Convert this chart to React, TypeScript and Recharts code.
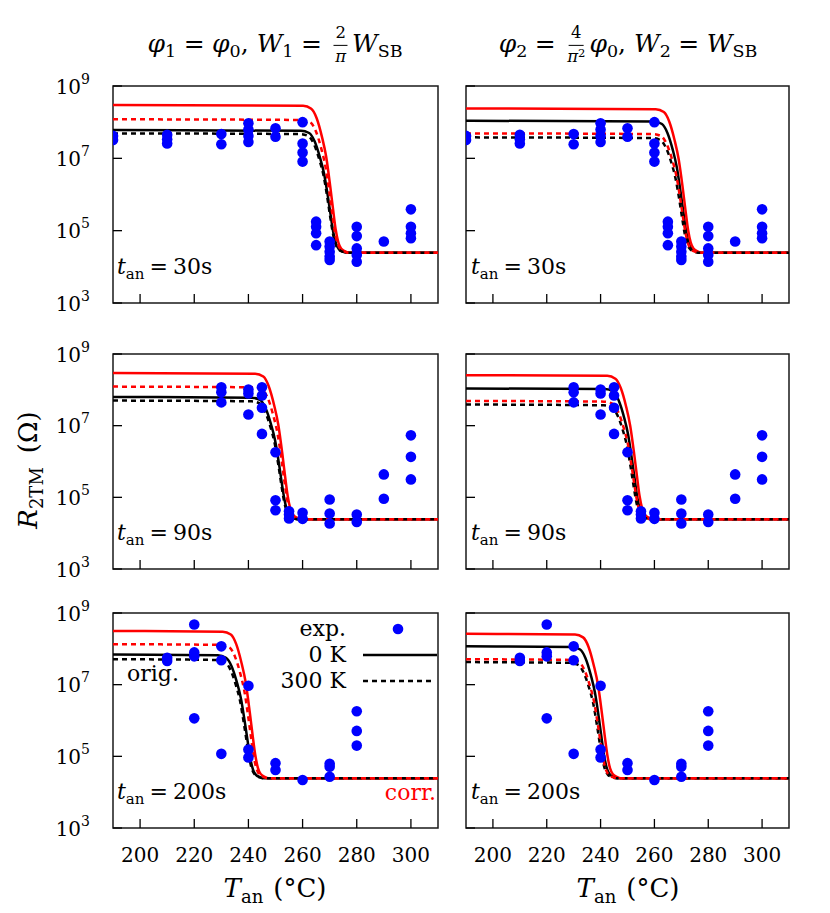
import React from 'react';
import { ComposedChart, Line, Scatter, XAxis, YAxis, ReferenceArea, Legend } from 'recharts';

const FONT = '"DejaVu Serif", serif';
const RED = '#ff0000';
const BLUE = '#0000ff';
const INK = '#000000';

const X_DOMAIN: [number, number] = [190, 310];
const Y_DOMAIN: [number, number] = [1e3, 1e9];
const X_TICKS = [200, 220, 240, 260, 280, 300];
const Y_TICKS = [1e3, 1e5, 1e7, 1e9];
const Y_TICK_EXPONENTS = ['3', '5', '7', '9'];

const ROW_LABELS = ['30s', '90s', '200s'];

// ---------- experimental points (T in °C, log10 R) ----------
const exp30_T = [190, 190, 210, 210, 210, 230, 230, 240, 240, 240, 240, 250, 250, 260, 260, 260, 260, 265, 265, 265, 265, 270, 270, 270, 270, 270, 280, 280, 280, 280, 280, 290, 300, 300, 300, 300];
const exp30_logR = [7.62, 7.51, 7.65, 7.53, 7.41, 7.67, 7.39, 7.97, 7.8, 7.62, 7.45, 7.83, 7.6, 8.0, 7.41, 7.16, 6.91, 5.25, 5.11, 4.93, 4.6, 4.7, 4.56, 4.42, 4.28, 4.19, 5.11, 4.85, 4.51, 4.33, 4.14, 4.7, 5.59, 5.11, 4.93, 4.79];
const exp90_T = [230, 230, 230, 240, 240, 240, 245, 245, 245, 245, 250, 250, 250, 255, 255, 255, 260, 260, 270, 270, 270, 280, 280, 290, 290, 300, 300, 300];
const exp90_logR = [8.07, 7.93, 7.65, 8.01, 7.9, 7.31, 8.07, 7.84, 7.5, 6.77, 6.26, 4.92, 4.64, 4.61, 4.52, 4.41, 4.57, 4.4, 4.94, 4.55, 4.27, 4.52, 4.31, 5.64, 4.96, 6.73, 6.13, 5.5];
const exp200_T = [210, 210, 220, 220, 220, 220, 230, 230, 230, 240, 240, 240, 250, 250, 260, 270, 270, 270, 280, 280, 280];
const exp200_logR = [7.75, 7.66, 8.68, 7.9, 7.79, 6.06, 8.07, 7.68, 5.07, 6.97, 5.19, 4.97, 4.81, 4.62, 4.34, 4.79, 4.71, 4.43, 6.26, 5.71, 5.3];

// ---------- model curves: T and log10 R ----------
// Panel A: 30 s, left column
const A_redSolid_T = [190, 260.2, 263.2, 265.2, 267.2, 268.7, 270.2, 271.2, 272.2, 273.2, 274.2, 275.7, 277.2, 310];
const A_redSolid_L = [8.475, 8.455, 8.37, 8.11, 7.58, 7.05, 6.23, 5.62, 5.04, 4.68, 4.51, 4.43, 4.39, 4.39];
const A_redDash_T = [190, 259.9, 262.9, 264.9, 266.9, 268.4, 269.9, 270.9, 271.9, 272.9, 273.9, 275.4, 276.9, 310];
const A_redDash_L = [8.08, 8.06, 7.99, 7.75, 7.27, 6.79, 6.05, 5.5, 4.98, 4.65, 4.5, 4.43, 4.39, 4.39];
const A_blackSolid_T = [190, 259.4, 262.4, 264.4, 266.4, 267.9, 269.4, 270.4, 271.4, 272.4, 273.4, 274.9, 276.4, 310];
const A_blackSolid_L = [7.78, 7.76, 7.7, 7.48, 7.03, 6.59, 5.92, 5.41, 4.93, 4.63, 4.49, 4.42, 4.39, 4.39];
const A_blackDash_T = [190, 259.2, 262.2, 264.2, 266.2, 267.7, 269.2, 270.2, 271.2, 272.2, 273.2, 274.7, 276.2, 310];
const A_blackDash_L = [7.69, 7.67, 7.61, 7.39, 6.96, 6.54, 5.88, 5.38, 4.92, 4.62, 4.49, 4.42, 4.39, 4.39];
// Panel B: 30 s, right column
const B_redSolid_T = [190, 260.5, 263.5, 265.5, 267.5, 269, 270.5, 271.5, 272.5, 273.5, 274.5, 276, 277.5, 310];
const B_redSolid_L = [8.38, 8.36, 8.28, 8.02, 7.5, 6.98, 6.19, 5.59, 5.03, 4.67, 4.51, 4.43, 4.39, 4.39];
const B_redDash_T = [190, 259.6, 262.6, 264.6, 266.6, 268.1, 269.6, 270.6, 271.6, 272.6, 273.6, 275.1, 276.6, 310];
const B_redDash_L = [7.69, 7.67, 7.61, 7.39, 6.96, 6.54, 5.88, 5.38, 4.92, 4.62, 4.49, 4.42, 4.39, 4.39];
const B_blackSolid_T = [190, 259.8, 262.8, 264.8, 266.8, 268.3, 269.8, 270.8, 271.8, 272.8, 273.8, 275.3, 276.8, 310];
const B_blackSolid_L = [8.04, 8.02, 7.95, 7.71, 7.24, 6.76, 6.03, 5.49, 4.97, 4.65, 4.5, 4.43, 4.39, 4.39];
const B_blackDash_T = [190, 259.3, 262.3, 264.3, 266.3, 267.8, 269.3, 270.3, 271.3, 272.3, 273.3, 274.8, 276.3, 310];
const B_blackDash_L = [7.58, 7.56, 7.5, 7.29, 6.88, 6.46, 5.83, 5.35, 4.9, 4.61, 4.49, 4.42, 4.39, 4.39];
// Panel C: 90 s, left column
const C_redSolid_T = [190, 242.5, 245.5, 247.5, 249.5, 251, 252.5, 253.5, 254.5, 255.5, 256.5, 258, 259.5, 310];
const C_redSolid_L = [8.47, 8.45, 8.37, 8.1, 7.57, 7.04, 6.23, 5.61, 5.04, 4.68, 4.51, 4.43, 4.39, 4.39];
const C_redDash_T = [190, 242.2, 245.2, 247.2, 249.2, 250.7, 252.2, 253.2, 254.2, 255.2, 256.2, 257.7, 259.2, 310];
const C_redDash_L = [8.09, 8.07, 8.0, 7.76, 7.28, 6.8, 6.06, 5.5, 4.98, 4.65, 4.5, 4.43, 4.39, 4.39];
const C_blackSolid_T = [190, 241.3, 244.3, 246.3, 248.3, 249.8, 251.3, 252.3, 253.3, 254.3, 255.3, 256.8, 258.3, 310];
const C_blackSolid_L = [7.8, 7.78, 7.72, 7.49, 7.05, 6.61, 5.93, 5.41, 4.94, 4.63, 4.49, 4.42, 4.39, 4.39];
const C_blackDash_T = [190, 241.1, 244.1, 246.1, 248.1, 249.6, 251.1, 252.1, 253.1, 254.1, 255.1, 256.6, 258.1, 310];
const C_blackDash_L = [7.7, 7.68, 7.62, 7.4, 6.97, 6.54, 5.88, 5.38, 4.92, 4.62, 4.49, 4.42, 4.39, 4.39];
// Panel D: 90 s, right column
const D_redSolid_T = [190, 242.5, 245.5, 247.5, 249.5, 251, 252.5, 253.5, 254.5, 255.5, 256.5, 258, 259.5, 310];
const D_redSolid_L = [8.41, 8.39, 8.31, 8.05, 7.53, 7.0, 6.2, 5.6, 5.03, 4.67, 4.51, 4.43, 4.39, 4.39];
const D_redDash_T = [190, 241.5, 244.5, 246.5, 248.5, 250, 251.5, 252.5, 253.5, 254.5, 255.5, 257, 258.5, 310];
const D_redDash_L = [7.69, 7.67, 7.61, 7.39, 6.96, 6.54, 5.88, 5.38, 4.92, 4.62, 4.49, 4.42, 4.39, 4.39];
const D_blackSolid_T = [190, 241.7, 244.7, 246.7, 248.7, 250.2, 251.7, 252.7, 253.7, 254.7, 255.7, 257.2, 258.7, 310];
const D_blackSolid_L = [8.04, 8.02, 7.95, 7.71, 7.24, 6.76, 6.03, 5.49, 4.97, 4.65, 4.5, 4.43, 4.39, 4.39];
const D_blackDash_T = [190, 241.2, 244.2, 246.2, 248.2, 249.7, 251.2, 252.2, 253.2, 254.2, 255.2, 256.7, 258.2, 310];
const D_blackDash_L = [7.59, 7.57, 7.51, 7.3, 6.89, 6.47, 5.83, 5.35, 4.9, 4.61, 4.49, 4.42, 4.39, 4.39];
// Panel E: 200 s, left column
const E_redSolid_T = [190, 230.5, 233.5, 235.5, 237.5, 239, 240.5, 241.5, 242.5, 243.5, 244.5, 246, 247.5, 310];
const E_redSolid_L = [8.5, 8.48, 8.4, 8.13, 7.59, 7.06, 6.23, 5.62, 5.05, 4.68, 4.51, 4.43, 4.39, 4.39];
const E_redDash_T = [190, 230, 233, 235, 237, 238.5, 240, 241, 242, 243, 244, 245.5, 247, 310];
const E_redDash_L = [8.13, 8.11, 8.04, 7.79, 7.31, 6.82, 6.07, 5.51, 4.99, 4.65, 4.5, 4.43, 4.39, 4.39];
const E_blackSolid_T = [190, 228.7, 231.7, 233.7, 235.7, 237.2, 238.7, 239.7, 240.7, 241.7, 242.7, 244.2, 245.7, 310];
const E_blackSolid_L = [7.84, 7.82, 7.75, 7.53, 7.08, 6.63, 5.94, 5.43, 4.94, 4.63, 4.49, 4.42, 4.39, 4.39];
const E_blackDash_T = [190, 228.4, 231.4, 233.4, 235.4, 236.9, 238.4, 239.4, 240.4, 241.4, 242.4, 243.9, 245.4, 310];
const E_blackDash_L = [7.71, 7.69, 7.63, 7.41, 6.98, 6.55, 5.88, 5.39, 4.92, 4.62, 4.49, 4.42, 4.39, 4.39];
// Panel F: 200 s, right column
const F_redSolid_T = [190, 230.5, 233.5, 235.5, 237.5, 239, 240.5, 241.5, 242.5, 243.5, 244.5, 246, 247.5, 310];
const F_redSolid_L = [8.42, 8.4, 8.32, 8.06, 7.53, 7.01, 6.2, 5.6, 5.04, 4.67, 4.51, 4.43, 4.39, 4.39];
const F_redDash_T = [190, 229, 232, 234, 236, 237.5, 239, 240, 241, 242, 243, 244.5, 246, 310];
const F_redDash_L = [7.71, 7.69, 7.63, 7.41, 6.98, 6.55, 5.88, 5.39, 4.92, 4.62, 4.49, 4.42, 4.39, 4.39];
const F_blackSolid_T = [190, 229.4, 232.4, 234.4, 236.4, 237.9, 239.4, 240.4, 241.4, 242.4, 243.4, 244.9, 246.4, 310];
const F_blackSolid_L = [8.07, 8.05, 7.98, 7.74, 7.26, 6.78, 6.05, 5.49, 4.98, 4.65, 4.5, 4.43, 4.39, 4.39];
const F_blackDash_T = [190, 228.7, 231.7, 233.7, 235.7, 237.2, 238.7, 239.7, 240.7, 241.7, 242.7, 244.2, 245.7, 310];
const F_blackDash_L = [7.63, 7.61, 7.55, 7.34, 6.92, 6.5, 5.85, 5.36, 4.91, 4.62, 4.49, 4.42, 4.39, 4.39];

type Pt = { T: number; R: number };
const pts = (T: number[], L: number[]): Pt[] => T.map((t, i) => ({ T: t, R: Math.pow(10, L[i]) }));

// ---------- layout ----------
const YW = 80;
const TOPPAD = 20;
const XH = 50;
const RPAD = 4;
const COLS = [
  { plotLeft: 113, plotW: 325 },
  { plotLeft: 466, plotW: 323 },
];
const ROWS = [
  { plotTop: 86, plotH: 217 },
  { plotTop: 354, plotH: 215 },
  { plotTop: 613, plotH: 215 },
];

type PanelDef = { row: number; col: number; rs: Pt[]; rd: Pt[]; bs: Pt[]; bd: Pt[]; exp: Pt[] };

const PANELS: PanelDef[] = [
  { row: 0, col: 0, rs: pts(A_redSolid_T, A_redSolid_L), rd: pts(A_redDash_T, A_redDash_L), bs: pts(A_blackSolid_T, A_blackSolid_L), bd: pts(A_blackDash_T, A_blackDash_L), exp: pts(exp30_T, exp30_logR) },
  { row: 0, col: 1, rs: pts(B_redSolid_T, B_redSolid_L), rd: pts(B_redDash_T, B_redDash_L), bs: pts(B_blackSolid_T, B_blackSolid_L), bd: pts(B_blackDash_T, B_blackDash_L), exp: pts(exp30_T, exp30_logR) },
  { row: 1, col: 0, rs: pts(C_redSolid_T, C_redSolid_L), rd: pts(C_redDash_T, C_redDash_L), bs: pts(C_blackSolid_T, C_blackSolid_L), bd: pts(C_blackDash_T, C_blackDash_L), exp: pts(exp90_T, exp90_logR) },
  { row: 1, col: 1, rs: pts(D_redSolid_T, D_redSolid_L), rd: pts(D_redDash_T, D_redDash_L), bs: pts(D_blackSolid_T, D_blackSolid_L), bd: pts(D_blackDash_T, D_blackDash_L), exp: pts(exp90_T, exp90_logR) },
  { row: 2, col: 0, rs: pts(E_redSolid_T, E_redSolid_L), rd: pts(E_redDash_T, E_redDash_L), bs: pts(E_blackSolid_T, E_blackSolid_L), bd: pts(E_blackDash_T, E_blackDash_L), exp: pts(exp200_T, exp200_logR) },
  { row: 2, col: 1, rs: pts(F_redSolid_T, F_redSolid_L), rd: pts(F_redDash_T, F_redDash_L), bs: pts(F_blackSolid_T, F_blackSolid_L), bd: pts(F_blackDash_T, F_blackDash_L), exp: pts(exp200_T, exp200_logR) },
];

const LINE_W = 2.5;
const DASH = '5 4';
const FS_TICK = 20;
const FS_TEXT = 22;
const FS_LABEL = 26;
const FS_TITLE = 25;
const DOT_R = 5.3;

function LegendBox({ W, H, plotLeftPage, plotTopPage }: any) {
  const ox = plotLeftPage - YW;
  const oy = plotTopPage - TOPPAD;
  const L = (x: number) => x - ox;
  const T = (y: number) => y - oy;
  return (
    <svg width={W} height={H} style={{ position: 'absolute', left: 0, top: 0, overflow: 'visible' }}>
      <text x={L(346)} y={T(636)} textAnchor="end" fontFamily={FONT} fontSize={FS_TEXT} fill={INK}>exp.</text>
      <circle cx={L(398)} cy={T(629)} r={DOT_R} fill={BLUE} />
      <text x={L(346)} y={T(662)} textAnchor="end" fontFamily={FONT} fontSize={FS_TEXT} fill={INK}>0 K</text>
      <line x1={L(363)} x2={L(437)} y1={T(655)} y2={T(655)} stroke={INK} strokeWidth={LINE_W} />
      <text x={L(346)} y={T(688)} textAnchor="end" fontFamily={FONT} fontSize={FS_TEXT} fill={INK}>300 K</text>
      <line x1={L(363)} x2={L(432)} y1={T(681)} y2={T(681)} stroke={INK} strokeWidth={LINE_W} strokeDasharray={DASH} />
    </svg>
  );
}

function Panel({ def }: { def: PanelDef }) {
  const { plotLeft, plotW } = COLS[def.col];
  const { plotTop, plotH } = ROWS[def.row];
  const W = YW + plotW + RPAD;
  const H = TOPPAD + plotH + XH;
  const bottom = TOPPAD + plotH;
  const showX = def.row === 2;
  const showY = def.col === 0;

  const xTick = (props: any) => {
    const { x, payload } = props;
    return (
      <g>
        <line x1={x} x2={x} y1={bottom} y2={bottom - 9} stroke={INK} strokeWidth={1.3} />
        {showX && (
          <text x={x} y={bottom + 34} textAnchor="middle" fontFamily={FONT} fontSize={FS_TICK} fill={INK}>
            {payload.value}
          </text>
        )}
      </g>
    );
  };
  const yTick = (props: any) => {
    const { y, payload, index } = props;
    const i = Y_TICKS.indexOf(payload.value);
    return (
      <g>
        <line x1={YW} x2={YW + 9} y1={y} y2={y} stroke={INK} strokeWidth={1.3} />
        {showY && (
          <text x={YW - 23} y={y + 7.5} textAnchor="end" fontFamily={FONT} fontSize={FS_TICK} fill={INK}>
            10
            <tspan dy={-10} fontSize={14}>{Y_TICK_EXPONENTS[i >= 0 ? i : index]}</tspan>
          </text>
        )}
      </g>
    );
  };

  return (
    <div style={{ position: 'absolute', left: plotLeft - YW, top: plotTop - TOPPAD, width: W, height: H }}>
      <ComposedChart width={W} height={H} margin={{ top: TOPPAD, right: RPAD, bottom: 0, left: 0 }}>
        <XAxis dataKey="T" type="number" domain={X_DOMAIN} ticks={X_TICKS} interval={0} allowDataOverflow axisLine={false} tickLine={false} height={XH} tick={xTick} />
        <YAxis dataKey="R" type="number" scale="log" domain={Y_DOMAIN} ticks={Y_TICKS} interval={0} allowDataOverflow axisLine={false} tickLine={false} width={YW} tick={yTick} />
        <Line data={def.bs} dataKey="R" type="monotone" stroke={INK} strokeWidth={LINE_W} dot={false} activeDot={false} isAnimationActive={false} />
        <Line data={def.rs} dataKey="R" type="monotone" stroke={RED} strokeWidth={LINE_W} dot={false} activeDot={false} isAnimationActive={false} />
        <Line data={def.bd} dataKey="R" type="monotone" stroke={INK} strokeWidth={LINE_W} strokeDasharray={DASH} dot={false} activeDot={false} isAnimationActive={false} />
        <Line data={def.rd} dataKey="R" type="monotone" stroke={RED} strokeWidth={LINE_W} strokeDasharray={DASH} dot={false} activeDot={false} isAnimationActive={false} />
        <Scatter data={def.exp} dataKey="R" fill={BLUE} isAnimationActive={false} shape={(p: any) => <circle cx={p.cx} cy={p.cy} r={DOT_R} fill={BLUE} />} />
        <ReferenceArea x1={190} x2={310} y1={1e3} y2={1e9} fill="none" fillOpacity={0} stroke="#1a1a1a" strokeWidth={1.5} ifOverflow="visible" />
        {def.row === 2 && def.col === 0 && (
          <Legend
            layout="horizontal"
            verticalAlign="middle"
            align="center"
            wrapperStyle={{ position: 'absolute', left: 0, top: 0, width: W, height: H, pointerEvents: 'none' }}
            content={() => <LegendBox W={W} H={H} plotLeftPage={plotLeft} plotTopPage={plotTop} />}
          />
        )}
      </ComposedChart>
    </div>
  );
}

const Sub = ({ children }: any) => (
  <span style={{ fontSize: '0.7em', position: 'relative', top: '0.3em' }}>{children}</span>
);
const Eq = () => <span style={{ margin: '0 0.3em' }}>=</span>;
const Frac = ({ n, d }: any) => (
  <span style={{ display: 'inline-flex', flexDirection: 'column', alignItems: 'center', fontSize: '0.66em', verticalAlign: 'middle', margin: '0 4px', lineHeight: 1.25 }}>
    <span style={{ borderBottom: '1px solid #000', padding: '0 2px 1px' }}>{n}</span>
    <span style={{ paddingTop: 1 }}>{d}</span>
  </span>
);

export default function App() {
  const tLabelX = [117, 471];
  const titleStyle: React.CSSProperties = { position: 'absolute', top: 45, transform: 'translate(-50%, -50%)', whiteSpace: 'nowrap', fontSize: FS_TITLE, lineHeight: 1.3, fontFamily: FONT };
  return (
    <div style={{ position: 'absolute', left: 0, top: 0, width: 830, height: 913, background: '#fff', fontFamily: FONT, color: INK }}>
      {PANELS.map((d, i) => (
        <Panel key={i} def={d} />
      ))}
      <svg width={830} height={913} style={{ position: 'absolute', left: 0, top: 0, pointerEvents: 'none' }}>
        {ROWS.map((r, ri) =>
          tLabelX.map((lx, ci) => (
            <text key={`${ri}-${ci}`} x={lx} y={r.plotTop + r.plotH - 29} fontFamily={FONT} fontSize={FS_TEXT} fill={INK}>
              <tspan fontStyle="italic">t</tspan>
              <tspan dy={5} fontSize={15}>an</tspan>
              <tspan dy={-5} dx={5}>=</tspan>
              <tspan dx={5}>{ROW_LABELS[ri]}</tspan>
            </text>
          ))
        )}
        <text x={127} y={681} fontFamily={FONT} fontSize={FS_TEXT} fill={INK}>orig.</text>
        <text x={436} y={800} textAnchor="end" fontFamily={FONT} fontSize={FS_TEXT} fill={RED}>corr.</text>
        {[275, 628].map((cx, i) => (
          <text key={i} x={cx} y={897} textAnchor="middle" fontFamily={FONT} fontSize={FS_LABEL} fill={INK}>
            <tspan fontStyle="italic">T</tspan>
            <tspan dy={6} fontSize={18}>an</tspan>
            <tspan dy={-6} dx={10}>(°C)</tspan>
          </text>
        ))}
        <text transform="translate(37, 470) rotate(-90)" textAnchor="middle" fontFamily={FONT} fontSize={FS_LABEL} fill={INK}>
          <tspan fontStyle="italic">R</tspan>
          <tspan dy={6} fontSize={18}>2TM</tspan>
          <tspan dy={-6} dx={14}>(Ω)</tspan>
        </text>
      </svg>
      <div style={{ ...titleStyle, left: 275 }}>
        <i>φ</i><Sub>1</Sub><Eq /><i>φ</i><Sub>0</Sub>, <i>W</i><Sub>1</Sub><Eq /><Frac n="2" d={<i>π</i>} /><i>W</i><Sub>SB</Sub>
      </div>
      <div style={{ ...titleStyle, left: 628 }}>
        <i>φ</i><Sub>2</Sub><Eq /><Frac n="4" d={<span><i>π</i><span style={{ fontSize: '0.7em', position: 'relative', top: '-0.4em' }}>2</span></span>} /><i>φ</i><Sub>0</Sub>, <i>W</i><Sub>2</Sub><Eq /><i>W</i><Sub>SB</Sub>
      </div>
    </div>
  );
}
